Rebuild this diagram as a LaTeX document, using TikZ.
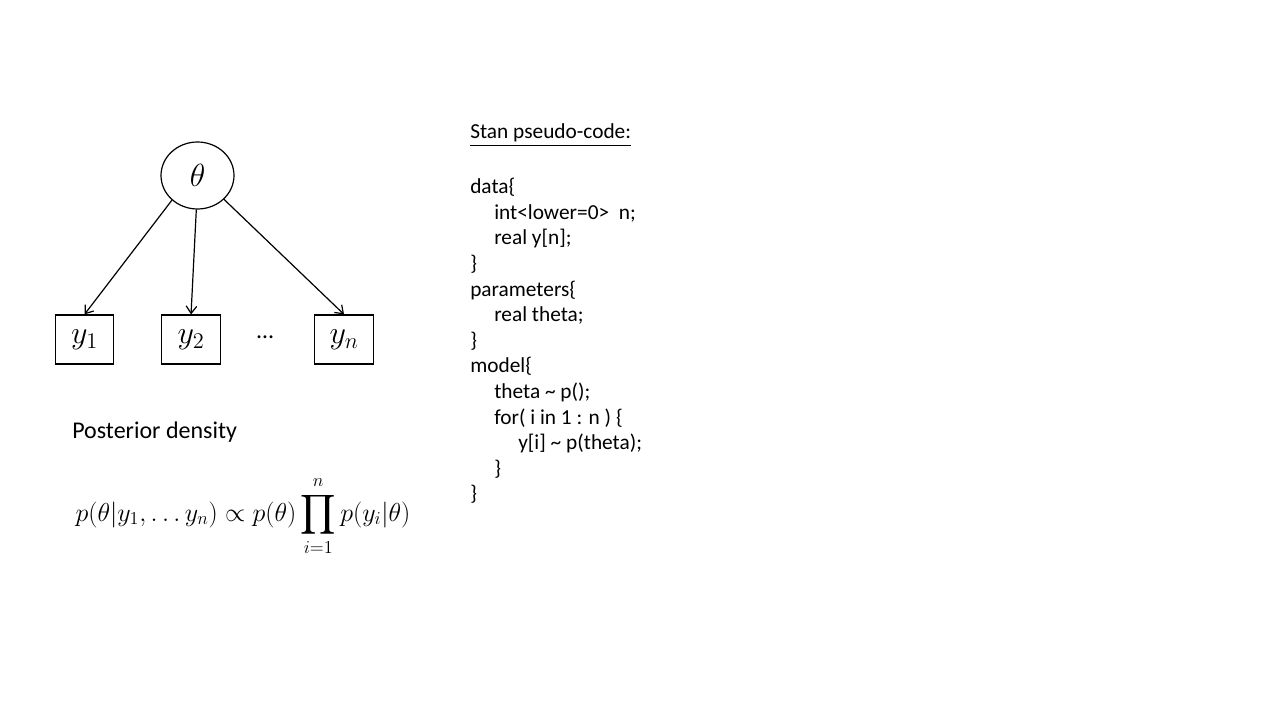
\RequirePackage{fix-cm}
\documentclass[tikz,border=0pt]{standalone}
\usepackage{fontspec}
\setmainfont{Carlito}
\usepackage{amsmath}
\usetikzlibrary{shapes,calc,arrows.meta}
\tikzset{
    latent/.style = {draw, ellipse, line width=0.9pt,
        minimum width=54.75pt,
        minimum height=50.25pt, inner sep=0pt,
        font=\fontsize{24}{28}\selectfont},
    obs/.style = {draw, rectangle, line width=0.9pt,
        minimum width=44pt,
        minimum height=36.75pt, inner sep=0pt,
        font=\fontsize{24}{28}\selectfont},
    arrow/.style = {draw, line width=0.9pt, -{Straight Barb[length=5.5pt,width=8pt]}},
    label/.style = {inner sep=0pt, font=\fontsize{18}{21.6}\selectfont},
    code/.style = {align=left, inner sep=0pt, font=\fontsize{16}{19.2}\selectfont}
}
\newcommand{\ind}{\hspace*{18pt}}
\begin{document}
\begin{tikzpicture}[x=0.75pt,y=-0.75pt,node distance=80pt]
        \useasboundingbox (0,0) rectangle (1280,720);
        % graphical model
        \node [latent] (theta) at (197.5,175.5) {$\theta$};
        \node [obs] (y1) at (84.5,339.5) {$y_1$};
        \node [obs, right of=y1, node distance=79.9pt] (y2) {$y_2$};
        \node [obs, right of=y2, node distance=114.75pt] (yn) {$y_n$};
        \node [label, yshift=1.5pt] at ($(y2)!0.484!(yn)$) (ydots) {\ldots};
        \draw [arrow] (theta.224) -- (y1.north);
        \draw [arrow] (theta.268) -- (y2.north);
        \draw [arrow] (theta.318) -- (yn.north);
        % posterior
        \node [label, anchor=base west] at (72,438) (post) {Posterior density};
        \node [inner sep=0pt, anchor=base, font=\fontsize{19.5}{23}\selectfont] at (243,521) (eq)
            {$\displaystyle p(\theta|y_1,\ldots y_n)\propto p(\theta)\prod_{i=1}^{n}p(y_i|\theta)$};
        % stan code
        \node [code, anchor=base west] at (470,139) (head) {\underline{Stan pseudo-code:}};
        \node [code, anchor=north west] at (470,178) (stan) {%
            data\{\\
            \ind int<lower=0>\ \ n;\\
            \ind real y[n];\\
            \}\\
            parameters\{\\
            \ind real theta;\\
            \}\\
            model\{\\
            \ind theta \textasciitilde{} p();\\
            \ind for( i in 1 : n ) \{\\
            \ind\ind y[i] \textasciitilde{} p(theta);\\
            \ind\}\\
            \}};
    \end{tikzpicture}
\end{document}
